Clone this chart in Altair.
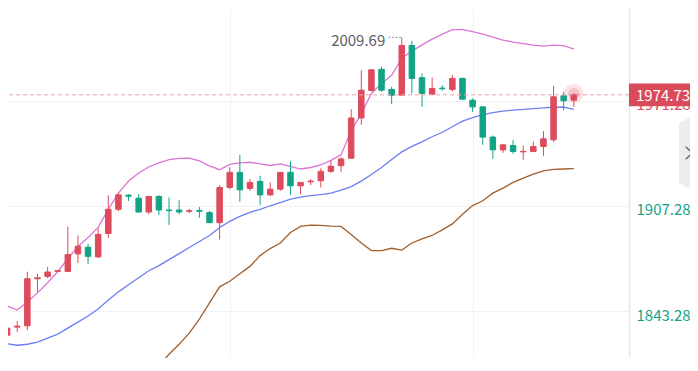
import altair as alt
import pandas as pd

idx = list(range(57))

opens = [1828.59, 1833.49, 1834.28, 1862.88, 1864.29, 1867.35, 1867.35, 1878.01, 1882.05, 1876.17,
         1890.44, 1905.14, 1913.71, 1911.87, 1903.48, 1912.91, 1904.71, 1904.71, 1903.91, 1904.34,
         1903.12, 1896.99, 1918.42, 1927.61, 1917.81, 1922.10, 1913.89, 1917.38, 1927.61, 1919.41,
         1921.85, 1922.47, 1928.22, 1931.65, 1936.18, 1960.68, 1977.40, 1990.26, 1978.01, 1974.52,
         2004.77, 1985.18, 1975.13, 1978.81, 1978.01, 1984.75, 1971.46, 1967.42, 1949.05, 1941.27,
         1943.90, 1940.04, 1940.23, 1943.29, 1947.39, 1974.15, 1971.46]

closes = [1832.87, 1834.10, 1862.88, 1863.49, 1866.98, 1867.78, 1877.58, 1882.66, 1876.54, 1889.83,
          1905.14, 1913.89, 1913.10, 1903.48, 1912.91, 1904.71, 1904.34, 1903.48, 1904.22, 1903.91,
          1896.99, 1918.42, 1927.61, 1916.96, 1921.49, 1913.89, 1917.38, 1927.61, 1919.41, 1921.49,
          1922.28, 1928.22, 1931.29, 1935.76, 1960.68, 1977.58, 1989.95, 1977.58, 1974.52, 2004.77,
          1984.75, 1975.56, 1978.62, 1978.44, 1984.75, 1972.07, 1967.42, 1949.05, 1941.27, 1944.33,
          1940.23, 1940.35, 1943.29, 1948.00, 1973.54, 1971.09, 1974.73]

highs = [1834.71, 1837.16, 1867.17, 1865.94, 1870.05, 1868.21, 1894.54, 1889.21, 1884.13, 1893.50,
         1913.71, 1915.36, 1914.32, 1914.32, 1913.28, 1913.71, 1912.30, 1910.65, 1905.56, 1906.54,
         1904.10, 1919.83, 1930.67, 1938.21, 1923.51, 1925.53, 1921.49, 1927.79, 1934.35, 1921.67,
         1923.51, 1930.06, 1934.71, 1936.80, 1965.95, 1989.65, 1990.26, 1991.91, 1979.66, 2009.69,
         2007.59, 1987.81, 1985.18, 1980.64, 1986.77, 1985.18, 1972.50, 1967.78, 1950.02, 1944.94,
         1947.39, 1943.90, 1946.35, 1952.72, 1980.28, 1976.60, 1975.60]

lows = [1827.36, 1830.42, 1831.65, 1854.31, 1863.31, 1866.98, 1866.98, 1872.49, 1871.88, 1875.56,
        1887.81, 1904.10, 1910.22, 1903.12, 1902.07, 1901.65, 1895.52, 1902.07, 1902.69, 1900.05,
        1896.87, 1886.76, 1917.38, 1909.61, 1916.34, 1907.59, 1913.28, 1916.34, 1913.89, 1914.32,
        1919.83, 1918.42, 1927.18, 1927.61, 1936.06, 1956.58, 1976.79, 1976.60, 1969.01, 1974.20,
        1975.56, 1967.42, 1974.52, 1977.21, 1976.60, 1971.89, 1964.35, 1944.33, 1935.76, 1939.43,
        1938.82, 1935.14, 1940.04, 1937.41, 1945.98, 1965.33, 1967.42]

upper = [1846.35, 1843.90, 1848.80, 1854.31, 1860.43, 1867.17, 1875.13, 1882.48, 1887.99, 1894.11,
         1905.14, 1914.93, 1922.28, 1927.18, 1930.86, 1933.31, 1935.33, 1936.06, 1936.18, 1934.53,
         1931.47, 1929.20, 1932.39, 1933.31, 1933.73, 1932.69, 1931.78, 1932.69, 1931.16, 1929.63,
         1930.55, 1932.08, 1934.84, 1938.21, 1952.90, 1963.31, 1975.56, 1981.69, 1986.59, 1997.00,
         2001.28, 2005.14, 2008.63, 2011.69, 2014.33, 2014.33, 2013.22, 2011.69, 2009.86, 2008.02,
         2006.79, 2005.88, 2004.96, 2004.34, 2004.96, 2004.65, 2002.51]

middle = [1823.38, 1822.46, 1823.07, 1824.30, 1826.75, 1829.20, 1832.87, 1836.55, 1840.22, 1844.51,
          1850.02, 1854.92, 1859.21, 1863.49, 1867.78, 1870.84, 1874.52, 1878.19, 1881.86, 1885.54,
          1889.21, 1894.11, 1897.79, 1900.85, 1903.30, 1905.14, 1907.28, 1909.12, 1911.26, 1912.48,
          1913.40, 1914.02, 1914.93, 1916.77, 1918.91, 1922.28, 1926.26, 1930.55, 1935.45, 1940.04,
          1943.41, 1946.17, 1949.23, 1951.98, 1955.35, 1958.72, 1960.86, 1962.70, 1963.93, 1964.84,
          1965.46, 1965.95, 1966.38, 1966.80, 1967.17, 1967.29, 1965.95]

lower = [1800.42, 1801.03, 1797.35, 1794.29, 1793.07, 1791.23, 1790.62, 1790.62, 1792.45, 1794.90,
         1794.90, 1794.90, 1796.13, 1801.03, 1805.31, 1810.21, 1816.95, 1823.07, 1829.81, 1838.38,
         1848.18, 1857.98, 1861.35, 1865.94, 1870.41, 1876.97, 1881.25, 1884.62, 1891.05, 1894.73,
         1895.46, 1895.34, 1894.85, 1894.73, 1889.83, 1884.62, 1880.03, 1880.03, 1881.44, 1880.33,
         1884.62, 1887.19, 1889.21, 1892.58, 1896.26, 1902.07, 1907.40, 1910.34, 1914.93, 1918.00,
         1921.49, 1924.12, 1926.57, 1928.53, 1929.45, 1929.63, 1929.82]

axis_ticks = [1843.28, 1907.28, 1971.28, 2035.29]
grid_candles = [22, 46]
last_price = 1974.73
peak_index = 39
peak_value = 2009.69

RED = "#dd4b5c"
GREEN = "#12a386"
FONT = "Noto Sans CJK SC"

df = pd.DataFrame({"i": idx, "open": opens, "close": closes, "high": highs, "low": lows,
                   "upper": upper, "middle": middle, "lower": lower})
df["dir"] = ["up" if c >= o else "down" for o, c in zip(opens, closes)]

xs = alt.Scale(domain=[0.583, 60.96], nice=False, zero=False)
ys = alt.Scale(domain=[1814.70, 2027.54], nice=False, zero=False)

x_axis = alt.Axis(values=grid_candles, grid=True, gridColor="#f1f1f4", labels=False,
                  ticks=False, domain=False, title=None)
y_axis = alt.Axis(orient="right", values=axis_ticks, format=".2f", grid=True, gridColor="#f1f1f4",
                  ticks=False, domain=True, domainColor="#e8e8ef", domainWidth=1.5,
                  labelPadding=7, labelFont=FONT, labelFontSize=15, labelAlign="left",
                  labelColor=alt.condition("datum.value > 1950", alt.value(RED), alt.value(GREEN)),
                  labelBaseline="middle", labelOffset=4, title=None)


def X(field="i:Q"):
    return alt.X(field, scale=xs, axis=x_axis, title=None)


def Y(field):
    return alt.Y(field, scale=ys, axis=y_axis, title=None)


dir_scale = alt.Scale(domain=["up", "down"], range=[RED, GREEN])

base = alt.Chart(df)

upper_line = base.mark_line(color="#dc74d6", strokeWidth=1.3, clip=True).encode(x=X(), y=Y("upper:Q"))
middle_line = base.mark_line(color="#6b7ff2", strokeWidth=1.3, clip=True).encode(x=X(), y=Y("middle:Q"))
lower_line = base.mark_line(color="#a35e2a", strokeWidth=1.3, clip=True).encode(x=X(), y=Y("lower:Q"))

wicks = base.mark_rule(strokeWidth=1, clip=True).encode(
    x=X(), y=Y("low:Q"), y2="high:Q",
    color=alt.Color("dir:N", scale=dir_scale, legend=None))

bodies = base.mark_bar(size=5.5, strokeWidth=1, clip=True).encode(
    x=X(), y=Y("open:Q"), y2="close:Q",
    fill=alt.Fill("dir:N", scale=dir_scale, legend=None),
    stroke=alt.Stroke("dir:N", scale=dir_scale, legend=None))

price_df = pd.DataFrame({"price": [last_price], "i": [idx[-1]], "top": [highs[-1]]})
price = alt.Chart(price_df)

price_line = price.mark_rule(strokeDash=[4, 3], color="#f2a3ab", strokeWidth=1).encode(y=Y("price:Q"))
glow_outer = price.mark_circle(color=RED, opacity=0.15, size=380, clip=True).encode(x=X(), y=Y("top:Q"))
glow_inner = price.mark_circle(color=RED, opacity=0.22, size=130, clip=True).encode(x=X(), y=Y("top:Q"))

tag = price.mark_point(shape="M-1,-0.33H1V0.33H-1Z", filled=True, size=4761, color="#d94a5b",
                       opacity=1).encode(x=alt.value(655.5), y=Y("price:Q"))
tag_text = price.mark_text(align="left", baseline="middle", dy=1, fontSize=15, font=FONT,
                           color="white").encode(x=alt.value(628), y=Y("price:Q"),
                                                 text=alt.Text("price:Q", format=".2f"))

peak_df = pd.DataFrame({"i": [peak_index], "i0": [peak_index - 1.28], "v": [peak_value]})
peak = alt.Chart(peak_df)
peak_text = peak.mark_text(align="right", baseline="middle", dx=-16.5, dy=3.5, fontSize=15,
                           font=FONT, color="#5d5d66").encode(x=X(), y=Y("v:Q"),
                                                               text=alt.Text("v:Q", format=".2f"))
peak_dots = peak.mark_rule(strokeDash=[1.5, 2], color="#777780", strokeWidth=1).encode(
    x=X("i0:Q"), x2="i:Q", y=Y("v:Q"))

ui_df = pd.DataFrame({"a": [0]})
panel = alt.Chart(ui_df).mark_point(
    shape="M0.2375,-1L-0.2375,-0.75L-0.2375,0.75L0.2375,1Z", filled=True, size=6400,
    color="#ececf1", opacity=1).encode(x=alt.value(680.5), y=alt.value(145))
chevron = alt.Chart(ui_df).mark_point(
    shape="M-0.53,-1L0.53,0L-0.53,1", filled=False, size=159, color="#6a6a72",
    strokeWidth=1.5, opacity=1).encode(x=alt.value(681), y=alt.value(145))

chart = alt.layer(
    upper_line, middle_line, lower_line, wicks, bodies, price_line,
    glow_outer, glow_inner, peak_dots, peak_text, tag, tag_text, panel, chevron
).properties(
    width=621, height=350,
    autosize=alt.AutoSizeParams(type="none"),
    padding={"left": 0, "right": 61, "top": 0, "bottom": 0},
    background="white",
).configure_view(strokeWidth=0)

chart.save("out.html", embed_options={"renderer": "svg", "actions": False})
